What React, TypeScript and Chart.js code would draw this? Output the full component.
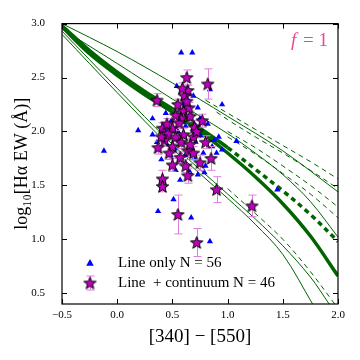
import React, { useEffect, useRef } from "react";
import { Chart, registerables } from "chart.js";
Chart.register(...registerables);

// ---------- axis ticks ----------
const xTicks = [-0.5, 0.0, 0.5, 1.0, 1.5, 2.0];
const yTicks = [0.5, 1.0, 1.5, 2.0, 2.5, 3.0];

// ---------- "Line only" objects (blue triangles) ----------
const lineOnlyX = [-0.12, 0.58, 0.68, 0.54, 0.84, 0.95, 0.32, 0.19, 0.49, 0.73, 0.32, 0.75, 0.82, 1.08, 1.45, 0.51, 0.37, 0.67, 0.84, 0.44,
  0.42, 0.45, 0.52, 0.56, 0.60, 0.65, 0.71, 0.62, 0.58, 0.70, 0.78, 0.86, 0.90, 0.95, 0.55, 0.62, 0.66, 0.60, 0.63, 0.69,
  0.71, 0.48, 0.53, 0.66, 0.80, 0.88, 0.76, 0.46, 0.40, 0.57, 0.63, 0.73, 0.79, 0.92, 0.36, 0.53];
const lineOnlyY = [1.82, 2.73, 2.73, 2.42, 2.39, 2.25, 2.12, 2.01, 2.10, 2.22, 1.97, 2.12, 2.07, 1.91, 1.46, 1.37, 1.26, 1.20, 0.98, 2.17,
  1.95, 1.88, 1.84, 1.91, 1.95, 1.85, 1.90, 1.78, 1.72, 1.75, 1.80, 1.86, 1.80, 1.83, 2.00, 2.05, 2.16, 2.26, 2.31, 2.33,
  2.05, 1.78, 1.64, 1.62, 1.68, 1.92, 1.96, 2.02, 1.74, 1.55, 1.66, 1.60, 1.62, 1.95, 1.90, 2.15];

// ---------- "Line + continuum" objects (magenta stars, with y errors) ----------
const contX = [0.36, 0.63, 0.82, 0.64, 0.61, 0.55, 0.60, 0.66, 0.77, 0.58, 0.41, 0.50, 0.60, 0.69, 0.43, 0.53, 0.37, 0.50, 0.64, 0.69,
  0.50, 0.75, 0.85, 0.64, 0.41, 0.41, 0.55, 0.72, 0.90, 1.22, 0.56, 0.46, 0.65, 0.58, 0.70, 0.47, 0.57, 0.66, 0.80, 0.53,
  0.63, 0.62, 0.45, 0.72, 0.40, 0.59];
const contY = [2.29, 2.50, 2.44, 2.38, 2.33, 2.25, 2.19, 2.14, 2.10, 2.12, 2.03, 2.03, 1.97, 1.95, 1.92, 1.95, 1.85, 1.86, 1.82, 1.80,
  1.69, 1.71, 1.75, 1.59, 1.56, 1.49, 1.23, 0.97, 1.46, 1.31, 2.08, 1.98, 2.22, 1.90, 2.04, 1.80, 1.76, 1.88, 1.90, 2.15,
  2.28, 1.68, 2.07, 2.00, 1.95, 2.40];
const contErr = [0.06, 0.07, 0.14, 0.05, 0.05, 0.05, 0.05, 0.05, 0.06, 0.05, 0.05, 0.05, 0.06, 0.06, 0.05, 0.06, 0.06, 0.06, 0.06, 0.06,
  0.06, 0.07, 0.11, 0.07, 0.08, 0.05, 0.18, 0.13, 0.12, 0.10, 0.05, 0.05, 0.05, 0.06, 0.06, 0.06, 0.05, 0.05, 0.06, 0.05,
  0.05, 0.06, 0.05, 0.06, 0.05, 0.05];

// ---------- model tracks ----------
const thickSolidX = [-0.5, -0.25, 0.0, 0.25, 0.5, 0.75, 1.0, 1.25, 1.5, 1.75, 2.0];
const thickSolidY = [2.97, 2.72, 2.52, 2.34, 2.18, 2.00, 1.80, 1.58, 1.33, 1.03, 0.66];
const thickDashX = [-0.5, -0.25, 0.0, 0.25, 0.5, 0.75, 1.0, 1.25, 1.5, 1.75, 2.0];
const thickDashY = [2.98, 2.75, 2.55, 2.37, 2.21, 2.03, 1.85, 1.65, 1.45, 1.23, 0.98];
const thinTopX = [-0.5, 0.0, 0.5, 1.0, 1.5, 2.0];
const thinTopY = [3.0, 2.74, 2.45, 2.14, 1.82, 1.44];
const thinMidX = [-0.5, 0.0, 0.5, 1.0, 1.25, 1.5, 1.75, 2.0];
const thinMidY = [2.95, 2.63, 2.30, 1.98, 1.80, 1.60, 1.35, 1.02];
const thinLow1X = [-0.5, 0.0, 0.5, 1.0, 1.25, 1.5, 1.77];
const thinLow1Y = [2.90, 2.36, 1.84, 1.38, 1.14, 0.86, 0.40];
const thinLow2X = [-0.5, 0.0, 0.5, 1.0, 1.25, 1.5, 1.75, 1.92];
const thinLow2Y = [2.93, 2.40, 1.88, 1.42, 1.19, 0.94, 0.65, 0.40];
const dashLowX = [1.0, 1.25, 1.5, 1.75, 1.97];
const dashLowY = [1.47, 1.24, 1.00, 0.70, 0.40];
const dash1X = [0.8, 1.0, 1.25, 1.5, 1.75, 2.0];
const dash1Y = [2.29, 2.17, 2.02, 1.87, 1.72, 1.56];
const dash2X = [0.9, 1.0, 1.25, 1.5, 1.75, 2.0];
const dash2Y = [2.18, 2.11, 1.95, 1.80, 1.64, 1.47];
const dash3X = [1.0, 1.25, 1.5, 1.75, 2.0];
const dash3Y = [2.00, 1.85, 1.68, 1.50, 1.30];
const dash4X = [1.0, 1.25, 1.5, 1.75, 2.0];
const dash4Y = [1.95, 1.79, 1.61, 1.42, 1.20];

const GREEN = "#006400";
const BLUE = "#0000ff";
const MAGENTA = "#bf00bf";
const ERR = "#e07be0";
const SERIF = "'Liberation Serif', 'DejaVu Serif', serif";

const pts = (xs: number[], ys: number[]) => xs.map((x, i) => ({ x, y: ys[i] }));
const fmt = (v: number) => v.toFixed(1).replace("-", "\u2212");

function makeStar(size: number) {
  const c = document.createElement("canvas");
  c.width = size;
  c.height = size;
  const ctx = c.getContext("2d")!;
  const cx = size / 2, cy = size / 2 + 0.5, R = size / 2 - 1, r = R * 0.42;
  ctx.beginPath();
  for (let i = 0; i < 10; i++) {
    const a = -Math.PI / 2 + (i * Math.PI) / 5;
    const rad = i % 2 === 0 ? R : r;
    ctx.lineTo(cx + rad * Math.cos(a), cy + rad * Math.sin(a));
  }
  ctx.closePath();
  ctx.fillStyle = MAGENTA;
  ctx.fill();
  ctx.lineWidth = 1;
  ctx.strokeStyle = "#000";
  ctx.stroke();
  return c;
}

function trianglePath(ctx: CanvasRenderingContext2D, x: number, y: number, r: number) {
  ctx.beginPath();
  ctx.moveTo(x, y - r);
  ctx.lineTo(x + r * 0.95, y + r * 0.7);
  ctx.lineTo(x - r * 0.95, y + r * 0.7);
  ctx.closePath();
}

export default function App() {
  const ref = useRef<HTMLCanvasElement | null>(null);
  useEffect(() => {
    document.body.style.margin = "0";
    const star = makeStar(15);

    const errorBars = {
      id: "errorBars",
      beforeDatasetDraw(chart: any, args: any) {
        if (args.index !== 0) return;
        const xs = chart.scales.x, ys = chart.scales.y, ctx = chart.ctx;
        ctx.save();
        ctx.strokeStyle = ERR;
        ctx.lineWidth = 1;
        contX.forEach((x, i) => {
          const px = Math.round(xs.getPixelForValue(x)) + 0.5;
          const y1 = ys.getPixelForValue(contY[i] - contErr[i]);
          const y2 = ys.getPixelForValue(contY[i] + contErr[i]);
          ctx.beginPath();
          ctx.moveTo(px, y1); ctx.lineTo(px, y2);
          ctx.moveTo(px - 4, y1); ctx.lineTo(px + 4, y1);
          ctx.moveTo(px - 4, y2); ctx.lineTo(px + 4, y2);
          ctx.stroke();
        });
        ctx.restore();
      },
    };

    const frame = {
      id: "frame",
      afterDraw(chart: any) {
        const { ctx, chartArea: a, scales } = chart;
        ctx.save();
        ctx.strokeStyle = "#000";
        ctx.lineWidth = 1.2;
        ctx.strokeRect(a.left, a.top, a.right - a.left, a.bottom - a.top);
        ctx.lineWidth = 1;
        ctx.beginPath();
        xTicks.forEach((v) => {
          const px = Math.round(scales.x.getPixelForValue(v)) + 0.5;
          ctx.moveTo(px, a.bottom); ctx.lineTo(px, a.bottom - 5);
          ctx.moveTo(px, a.top); ctx.lineTo(px, a.top + 5);
        });
        yTicks.forEach((v) => {
          const py = Math.round(scales.y.getPixelForValue(v)) + 0.5;
          ctx.moveTo(a.left, py); ctx.lineTo(a.left + 5, py);
          ctx.moveTo(a.right, py); ctx.lineTo(a.right - 5, py);
        });
        ctx.stroke();

        // f = 1 annotation
        ctx.fillStyle = "#ee4499";
        ctx.textBaseline = "middle";
        ctx.textAlign = "right";
        ctx.font = `19px ${SERIF}`;
        const rest = " = 1";
        const restW = ctx.measureText(rest).width;
        ctx.fillText(rest, a.right - 10, a.top + 17);
        ctx.font = `italic 19px ${SERIF}`;
        ctx.fillText("f", a.right - 10 - restW - 2, a.top + 17);

        // legend
        const lx = a.left + 28;
        const ly1 = a.bottom - 41;
        const ly2 = a.bottom - 21;
        ctx.fillStyle = BLUE;
        trianglePath(ctx, lx, ly1, 4);
        ctx.fill();
        ctx.strokeStyle = ERR;
        ctx.beginPath();
        ctx.moveTo(lx + 0.5, ly2 - 7); ctx.lineTo(lx + 0.5, ly2 + 7);
        ctx.moveTo(lx - 3.5, ly2 - 7); ctx.lineTo(lx + 4.5, ly2 - 7);
        ctx.moveTo(lx - 3.5, ly2 + 7); ctx.lineTo(lx + 4.5, ly2 + 7);
        ctx.stroke();
        ctx.drawImage(star, lx - 7.5, ly2 - 7.5);
        ctx.fillStyle = "#000";
        ctx.textAlign = "left";
        ctx.font = `15px ${SERIF}`;
        ctx.fillText("Line only N = 56", a.left + 56, ly1);
        ctx.fillText("Line  + continuum N = 46", a.left + 56, ly2);
        ctx.restore();
      },
    };

    const track = (xs: number[], ys: number[], width: number, dash?: number[], dashFrom?: number) => ({
      type: "scatter" as const,
      data: pts(xs, ys),
      showLine: true,
      borderColor: GREEN,
      backgroundColor: GREEN,
      borderWidth: width,
      pointRadius: 0,
      tension: 0.35,
      borderDash: dashFrom === undefined ? dash || [] : [],
      segment: dashFrom !== undefined
        ? { borderDash: (c: any) => (c.p0.parsed.x >= dashFrom ? dash : []) }
        : undefined,
    });

    const chart = new Chart(ref.current!, {
      type: "scatter",
      data: {
        datasets: [
          {
            data: pts(contX, contY),
            pointStyle: star as any,
            pointRadius: 7,
            borderColor: "#000",
            backgroundColor: MAGENTA,
          },
          {
            data: pts(lineOnlyX, lineOnlyY),
            pointStyle: "triangle",
            pointRadius: 3.6,
            borderWidth: 0,
            borderColor: BLUE,
            backgroundColor: BLUE,
          },
          track(thickSolidX, thickSolidY, 3.5),
          track(thickDashX, thickDashY, 3.5, [5, 4], 1.0),
          track(thinTopX, thinTopY, 1),
          track(thinMidX, thinMidY, 1),
          track(thinLow1X, thinLow1Y, 1),
          track(thinLow2X, thinLow2Y, 1),
          track(dashLowX, dashLowY, 1, [5, 4]),
          track(dash1X, dash1Y, 1, [5, 4]),
          track(dash2X, dash2Y, 1, [5, 4]),
          track(dash3X, dash3Y, 1, [5, 4]),
          track(dash4X, dash4Y, 1, [5, 4]),
        ] as any,
      },
      options: {
        animation: false,
        responsive: false,
        events: [],
        layout: { padding: { left: 0, right: 22, top: 18, bottom: 0 } },
        plugins: { legend: { display: false }, tooltip: { enabled: false } },
        scales: {
          x: {
            type: "linear",
            min: -0.5,
            max: 2.0,
            afterBuildTicks: (s: any) => { s.ticks = xTicks.map((v) => ({ value: v })); },
            afterFit: (s: any) => { s.height = 56; },
            grid: { display: false, drawTicks: false },
            border: { display: false },
            ticks: {
              callback: (v: any) => fmt(Number(v)),
              font: { family: SERIF, size: 11 },
              color: "#000",
              padding: 5,
              maxRotation: 0,
              autoSkip: false,
            },
            title: {
              display: true,
              text: "[340] \u2212 [550]",
              font: { family: SERIF, size: 19 },
              color: "#000",
              padding: { top: 0, bottom: 12 },
            },
          },
          y: {
            type: "linear",
            min: 0.4,
            max: 3.0,
            afterBuildTicks: (s: any) => { s.ticks = yTicks.map((v) => ({ value: v })); },
            afterFit: (s: any) => { s.width = 62; },
            grid: { display: false, drawTicks: false },
            border: { display: false },
            ticks: {
              callback: (v: any) => fmt(Number(v)),
              font: { family: SERIF, size: 11 },
              color: "#000",
              padding: 17,
              autoSkip: false,
            },
            title: {
              display: true,
              text: "log\u2081\u2080[H\u03b1 EW (\u00c5)]",
              font: { family: SERIF, size: 18 },
              color: "#000",
              padding: { top: 11, bottom: 0 },
            },
          },
        },
      },
      plugins: [errorBars, frame],
    });
    return () => chart.destroy();
  }, []);

  return (
    <div style={{ width: 360, height: 360 }}>
      <canvas ref={ref} width={360} height={360} style={{ display: "block" }} />
    </div>
  );
}
